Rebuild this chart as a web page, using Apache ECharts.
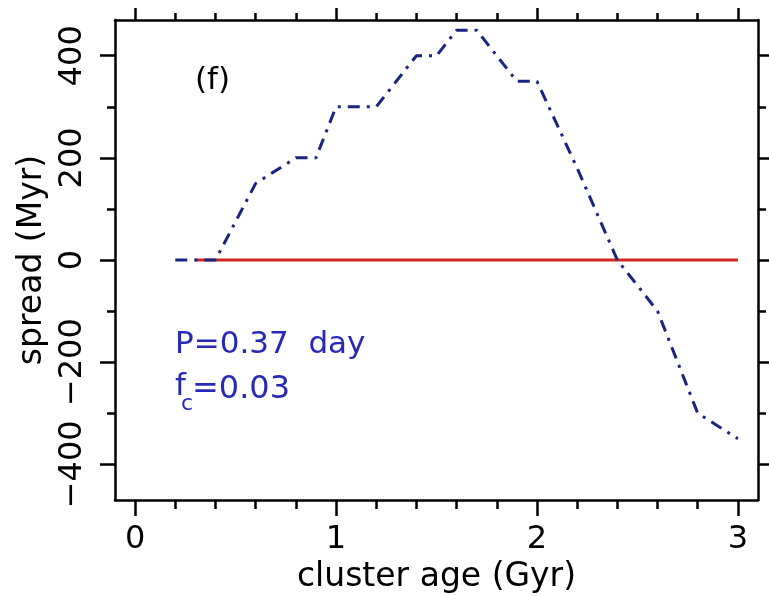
<!DOCTYPE html>
<html>
<head>
<meta charset="utf-8">
<script src="https://cdn.jsdelivr.net/npm/echarts@6/dist/echarts.min.js"></script>
<style>
html,body{margin:0;padding:0;background:#fff;}
#chart{width:769px;height:596px;}
</style>
</head>
<body>
<div id="chart"></div>
<script>
// ---- data ----
const ages    = [0.2, 0.3, 0.4, 0.5, 0.6, 0.7, 0.8, 0.9, 1.0, 1.1, 1.2, 1.3, 1.4, 1.5, 1.6, 1.7, 1.8, 1.9, 2.0, 2.1, 2.2, 2.3, 2.4, 2.5, 2.6, 2.7, 2.8, 2.9, 3.0];
const spreads = [0,   0,   0,   75,  150, 175, 200, 200, 300, 300, 300, 350, 400, 400, 450, 450, 400, 350, 350, 265, 180, 90,  0,   -50, -100, -200, -300, -325, -350];
const refAges    = [0.3, 3.0];
const refSpreads = [0, 0];
const xMajorTicks = [0, 1, 2, 3];
const xMinorTicks = [0.2, 0.4, 0.6, 0.8, 1.2, 1.4, 1.6, 1.8, 2.2, 2.4, 2.6, 2.8];
const yMajorTicks = [-400, -200, 0, 200, 400];
const yMinorTicks = [-300, -100, 100, 300];
const xTitle = 'cluster age (Gyr)';
const yTitle = 'spread (Myr)';
const panelLabel = '(f)';
const noteP = 'P=0.37  day';
const noteF = 'f';
const noteSub = 'c';
const noteFval = '=0.03';

const FONT = 'DejaVu Sans';
const lineCol = '#000';
const gridBox = {left: 115, top: 20, width: 643, height: 480, outerBoundsMode: 'none'};

function xAx(grid, pos, ticks, len, withLabel) {
  const a = {
    gridIndex: grid, type: 'value', position: pos, min: -0.1, max: 3.1,
    axisLine: {show: grid === 0, onZero: false, lineStyle: {color: lineCol, width: 2.5}},
    axisTick: {show: true, inside: false, length: len, customValues: ticks, lineStyle: {color: lineCol, width: 2.5}},
    axisLabel: {show: false},
    splitLine: {show: false}
  };
  if (withLabel) {
    a.axisLabel = {show: true, customValues: ticks, fontFamily: FONT, fontSize: 32, color: '#000', margin: 24};
    a.name = xTitle; a.nameLocation = 'middle'; a.nameGap = 60;
    a.nameTextStyle = {fontFamily: FONT, fontSize: 33, color: '#000'};
  }
  return a;
}
function yAx(grid, pos, ticks, len, withLabel) {
  const a = {
    gridIndex: grid, type: 'value', position: pos, min: -470, max: 470,
    axisLine: {show: grid === 0, onZero: false, lineStyle: {color: lineCol, width: 2.5}},
    axisTick: {show: true, inside: false, length: len, customValues: ticks, lineStyle: {color: lineCol, width: 2.5}},
    axisLabel: {show: false},
    splitLine: {show: false}
  };
  if (withLabel) {
    a.axisLabel = {show: true, customValues: ticks, rotate: 90, fontFamily: FONT, fontSize: 32, color: '#000', margin: 26,
      formatter: v => String(v).replace('-', '\u2212')};
    a.name = yTitle; a.nameLocation = 'middle'; a.nameGap = 66;
    a.nameTextStyle = {fontFamily: FONT, fontSize: 33, color: '#000'};
  }
  return a;
}

const chart = echarts.init(document.getElementById('chart'), null, {renderer: 'canvas'});
chart.setOption({
  backgroundColor: '#fff',
  animation: false,
  grid: [Object.assign({}, gridBox), Object.assign({}, gridBox)],
  xAxis: [
    xAx(0, 'bottom', xMajorTicks, 16, true),
    xAx(0, 'top', xMajorTicks, 12, false),
    xAx(1, 'bottom', xMinorTicks, 9, false),
    xAx(1, 'top', xMinorTicks, 7, false)
  ],
  yAxis: [
    yAx(0, 'left', yMajorTicks, 15, true),
    yAx(0, 'right', yMajorTicks, 11, false),
    yAx(1, 'left', yMinorTicks, 8, false),
    yAx(1, 'right', yMinorTicks, 8, false)
  ],
  series: [
    {
      type: 'line', xAxisIndex: 0, yAxisIndex: 0, showSymbol: false, z: 2,
      data: refAges.map((a, i) => [a, refSpreads[i]]),
      lineStyle: {color: '#d0261c', width: 3}
    },
    {
      type: 'line', xAxisIndex: 0, yAxisIndex: 0, showSymbol: false, z: 3,
      data: ages.map((a, i) => [a, spreads[i]]),
      lineStyle: {color: '#1a2580', width: 3, type: [12, 7, 3, 7], cap: 'butt'}
    }
  ],
  graphic: [
    {type: 'text', left: 195, top: 65, style: {text: panelLabel, font: '31px "DejaVu Sans"', fill: '#000'}},
    {type: 'text', left: 175, top: 329, style: {text: noteP, font: '31px "DejaVu Sans"', fill: '#2828b8'}},
    {type: 'text', left: 175, top: 371, style: {text: noteF, font: '31px "DejaVu Sans"', fill: '#2828b8'}},
    {type: 'text', left: 181, top: 393, style: {text: noteSub, font: '22px "DejaVu Sans"', fill: '#2828b8'}},
    {type: 'text', left: 192, top: 374, style: {text: noteFval, font: '32px "DejaVu Sans"', fill: '#2828b8'}}
  ]
});
</script>
</body>
</html>
